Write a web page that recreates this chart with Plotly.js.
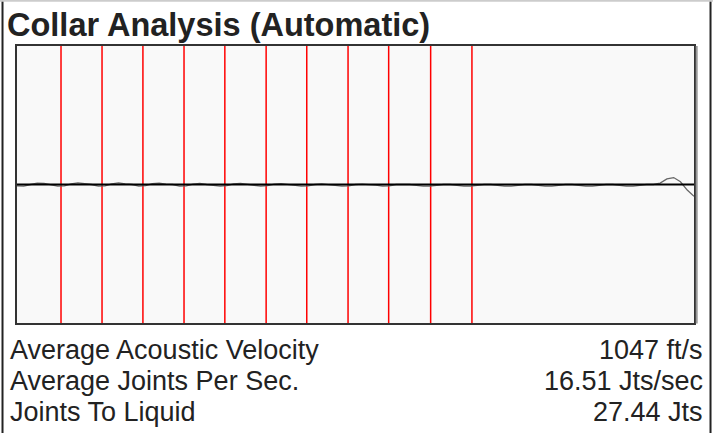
<!DOCTYPE html>
<html>
<head>
<meta charset="utf-8">
<script src="https://cdn.plot.ly/plotly-3.0.1.min.js"></script>
<style>
html,body{margin:0;padding:0;background:#fff;}
#chart{width:713px;height:433px;}
</style>
</head>
<body>
<div id="chart"></div>
<script>
// Collar (joint) marker positions along the trace (relative time units)
var collarPositions = [6.5, 12.56, 18.6, 24.67, 30.7, 36.8, 42.8, 48.9, 54.9, 61.1, 67.2];

// Acoustic signal trace
var signalX = [0,1,2,3,4,5,6,7,8,9,10,11,12,13,14,15,16,17,18,19,20,21,22,23,24,25,26,27,28,29,30,31,32,33,34,35,36,37,38,39,40,41,42,43,44,45,46,47,48,49,50,51,52,53,54,55,56,57,58,59,60,61,62,63,64,65,66,67,68,69,70,71,72,73,74,75,76,77,78,79,80,81,82,83,84,85,86,87,88,89,90,91,92,93,94,95,96,97,98,99,100];
var signalY = [-1,-1.2,0,1,0.8,0,-1.2,-1,0.4,1.2,0.6,0,-1.2,-1,0.5,1.2,0.4,0,-1.2,-0.8,0.6,1,0.3,0,-1.2,-1,0.2,0.8,0,-0.4,-1.2,-0.8,0.4,0.8,0,-0.4,-1.2,-0.8,0.3,0.6,0,-0.4,-1.2,-1,0,0.4,0,-0.4,-1.2,-1,0,0.3,0,-0.5,-1.2,-1,0,0,0,-0.6,-1.2,-1.2,-0.4,0,0,-0.6,-1.2,-1.2,-0.4,0,0,-0.6,-1.2,-1.2,-0.4,0,0,-0.6,-1.2,-1.2,-0.4,0,0,-0.6,-1.2,-1.2,-0.4,0,0,-0.6,-1.2,-1.2,-0.4,0,0,1,4,5,2,-4,-8.5];

// Baseline
var baselineX = [0, 100];
var baselineY = [0, 0];

// Summary labels and values
var statLabels = ["Average Acoustic Velocity", "Average Joints Per Sec.", "Joints To Liquid"];
var statValues = ["1047 ft/s", "16.51 Jts/sec", "27.44 Jts"];

var FONT = "Liberation Sans, Arial, Helvetica, sans-serif";

var traces = [
  {x: signalX, y: signalY, type: 'scatter', mode: 'lines',
   line: {color: '#666', width: 1.3}, hoverinfo: 'skip', showlegend: false},
  {x: baselineX, y: baselineY, type: 'scatter', mode: 'lines',
   line: {color: '#000', width: 2}, hoverinfo: 'skip', showlegend: false}
];

var shapes = collarPositions.map(function (p) {
  return {type: 'line', xref: 'x', yref: 'paper', x0: p, x1: p, y0: 0, y1: 1,
          line: {color: 'rgb(255,0,0)', width: 1.5}, layer: 'below'};
});
// plot box shadow on right
shapes.push({type: 'line', xref: 'paper', yref: 'paper', x0: 1.004, x1: 1.004, y0: -0.002, y1: 1.0,
             line: {color: '#999', width: 2}});
// outer frame
shapes.push({type: 'line', xref: 'paper', yref: 'paper', x0: -0.0214, x1: -0.0214, y0: -0.42, y1: 1.2,
             line: {color: '#222', width: 2}});
shapes.push({type: 'line', xref: 'paper', yref: 'paper', x0: 1.0244, x1: 1.0244, y0: -0.42, y1: 1.2,
             line: {color: '#222', width: 2}});
shapes.push({type: 'line', xref: 'paper', yref: 'paper', x0: -0.03, x1: 1.03, y0: 1.163, y1: 1.163,
             line: {color: '#ccc', width: 2}});

var annYs = [-0.0975, -0.2094, -0.3213];
var annotations = [];
statLabels.forEach(function (t, i) {
  annotations.push({text: t, xref: 'paper', yref: 'paper', x: -0.0133, y: annYs[i],
    xanchor: 'left', yanchor: 'middle', showarrow: false,
    font: {family: FONT, size: 27, color: '#222'}});
  annotations.push({text: statValues[i], xref: 'paper', yref: 'paper', x: 1.0163, y: annYs[i],
    xanchor: 'right', yanchor: 'middle', showarrow: false,
    font: {family: FONT, size: 27, color: '#222'}});
});

var layout = {
  width: 713, height: 433,
  margin: {l: 17, r: 19, t: 46, b: 110, pad: 0},
  paper_bgcolor: '#fff',
  plot_bgcolor: '#f9f9f9',
  title: {text: '<b>Collar Analysis (Automatic)</b>', xref: 'container', yref: 'container',
          x: 7 / 713, xanchor: 'left', y: 1 - 25 / 433, yanchor: 'middle',
          font: {family: FONT, size: 32.5, color: '#222'}},
  xaxis: {range: [0, 100], showgrid: false, zeroline: false, showticklabels: false, ticks: '',
          showline: true, mirror: true, linecolor: '#333', linewidth: 2, fixedrange: true},
  yaxis: {range: [-100, 100], showgrid: false, zeroline: false, showticklabels: false, ticks: '',
          showline: true, mirror: true, linecolor: '#333', linewidth: 2, fixedrange: true},
  shapes: shapes,
  annotations: annotations,
  showlegend: false
};

Plotly.newPlot('chart', traces, layout, {displayModeBar: false, staticPlot: true});
</script>
</body>
</html>
